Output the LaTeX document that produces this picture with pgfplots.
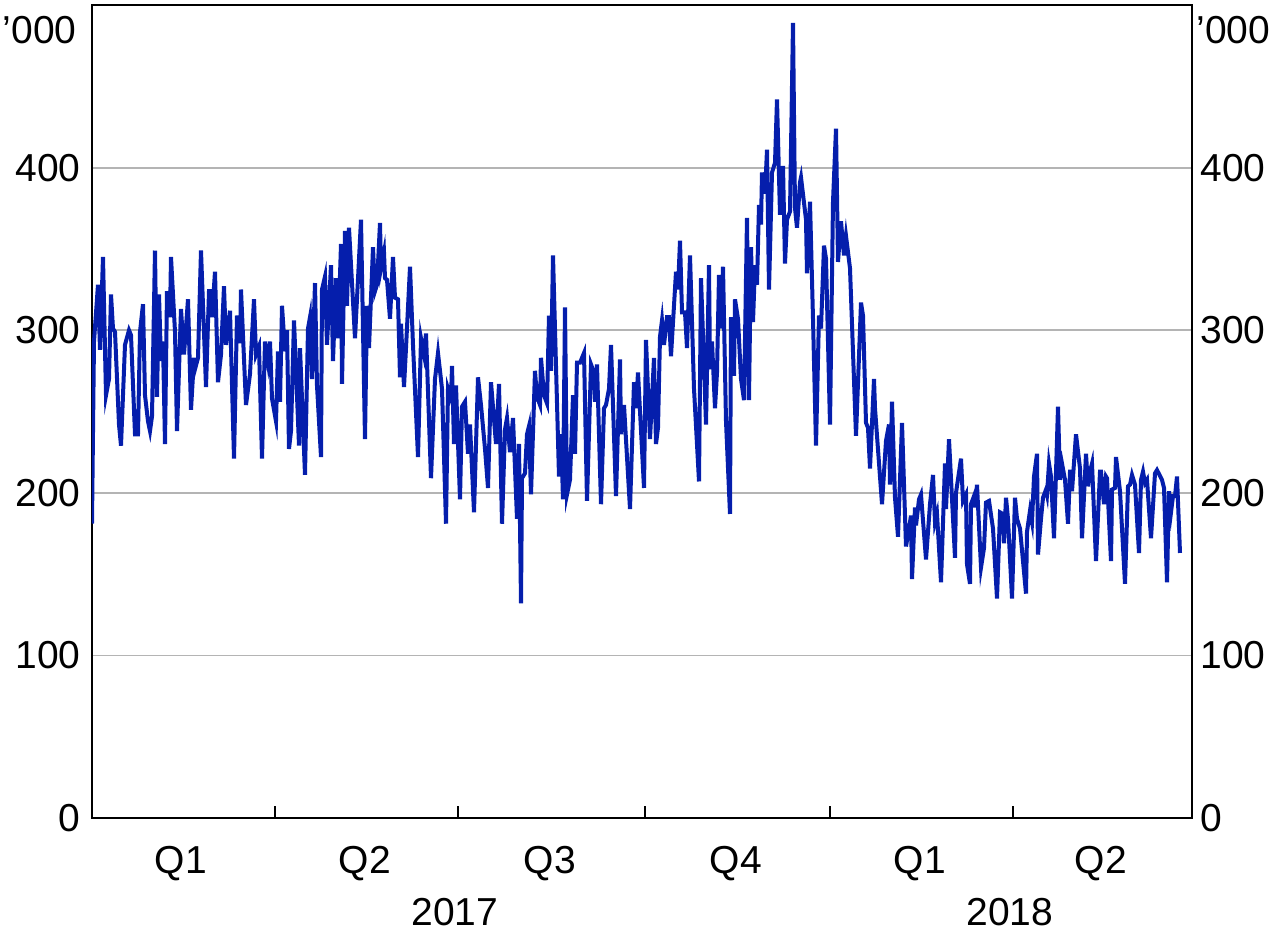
\documentclass[border=0pt]{standalone}
\usepackage{pgfplots}
\pgfplotsset{compat=1.18}
\usepackage{fontspec}
\setmainfont{Liberation Sans}
\definecolor{serie}{RGB}{5,30,172}
\definecolor{gridc}{RGB}{180,180,180}
\begin{document}
\fontsize{19.5}{22}\selectfont
\begin{tikzpicture}
\begin{axis}[
  scale only axis, width=550pt, height=406.5pt,
  xmin=92, xmax=1192, ymin=0, ymax=500,
  ytick={0,100,200,300,400},
  ymajorgrids, grid style={gridc, line width=0.9pt},
  xtick={275,458,645,830,1013}, xticklabels={},
  xtick pos=bottom, ytick pos=left,
  tick align=inside, major tick length=6pt,
  xtick style={black, line width=0.8pt},
  ytick style={draw=none},
  axis line style={black, line width=0.8pt},
  /pgf/number format/assume math mode=true,
  tick label style={font=\fontsize{19.5}{22}\selectfont},
  yticklabel style={inner sep=0pt, xshift=-5.5pt},
  clip mode=individual,
]
\addplot[serie, line width=2pt] coordinates {
(92,181) (94,293) (98,328) (100,288) (103,345) (106,260) (109,270) (111,322) (113,301) (115,299)
(119,242) (121,229) (125,291) (129,300) (131,297) (135,236) (138,236) (140,299) (143,316) (145,260)
(148,244) (150,238) (152,247) (155,349) (157,259) (159,322) (161,281) (163,293) (165,230) (167,324)
(170,308) (171,345) (175,299) (177,238) (181,313) (184,285) (188,319) (191,251) (194,283) (195,276)
(198,283) (201,349) (206,265) (209,324) (211,324) (212,308) (215,336) (218,268) (221,285) (224,327)
(226,291) (228,301) (230,312) (234,221) (237,309) (240,292) (241,325) (246,254) (250,273) (254,319)
(256,285) (259,290) (262,221) (265,293) (268,280) (270,293) (272,258) (276,244) (278,287) (280,256)
(282,315) (285,287) (287,300) (289,227) (291,238) (294,306) (299,229) (300,289) (305,211) (308,301)
(310,308) (312,270) (315,329) (317,266) (321,222) (322,325) (325,333) (327,291) (331,340) (333,281)
(336,332) (338,295) (341,353) (342,267) (345,361) (347,315) (349,363) (355,295) (361,368) (365,233)
(367,315) (369,289) (373,351) (375,324) (377,328) (380,366) (381,338) (384,348) (385,332) (387,331)
(390,307) (393,345) (395,320) (398,319) (400,271) (401,304) (404,265) (406,289) (410,339) (413,291)
(418,222) (421,295) (424,285) (426,298) (431,209) (435,270) (438,286) (442,264) (446,181) (448,264)
(451,258) (452,278) (454,230) (456,266) (460,196) (462,253) (465,256) (468,224) (470,242) (474,188)
(478,271) (481,254) (485,227) (488,203) (491,268) (496,230) (499,267) (502,181) (505,239) (507,246)
(510,225) (513,246) (517,184) (519,230) (521,132) (522,209) (525,212) (527,236) (529,241) (531,199)
(535,275) (537,259) (540,254) (541,283) (544,260) (547,255) (549,309) (551,275) (553,346) (559,210)
(561,236) (563,196) (565,314) (567,199) (570,208) (573,260) (575,224) (577,280) (580,280) (584,286)
(587,195) (591,279) (594,274) (595,256) (597,279) (601,193) (604,252) (606,254) (609,264) (611,291)
(616,198) (620,282) (621,236) (624,254) (630,190) (634,268) (636,252) (638,274) (644,203) (646,294)
(650,233) (654,283) (656,230) (658,240) (660,296) (662,306) (664,291) (667,308) (669,308) (671,284)
(676,336) (678,325) (680,355) (682,311) (685,311) (687,289) (690,346) (694,264) (699,207) (701,332)
(704,279) (706,242) (709,340) (710,276) (712,293) (715,252) (717,274) (719,334) (721,301) (723,339)
(726,244) (730,187) (731,308) (734,272) (735,319) (738,307) (741,270) (744,257) (747,369) (749,257)
(751,351) (753,305) (755,340) (757,328) (759,377) (761,365) (762,397) (765,384) (767,411) (769,325)
(772,397) (775,403) (777,442) (780,371) (783,401) (785,341) (787,368) (790,373) (793,489) (795,375)
(797,363) (800,391) (801,394) (806,368) (807,335) (810,379) (813,307) (816,229) (819,309) (821,301)
(824,352) (826,344) (830,242) (833,379) (836,424) (838,342) (841,367) (844,346) (846,358) (850,338)
(856,235) (861,317) (863,309) (866,243) (868,240) (870,215) (874,270) (875,252) (882,193) (886,232)
(889,242) (890,205) (892,256) (895,197) (898,173) (902,243) (906,167) (909,178) (911,186) (912,147)
(915,191) (916,180) (919,196) (921,199) (926,159) (930,193) (933,211) (935,182) (937,187) (941,145)
(945,218) (946,190) (949,233) (955,160) (956,200) (961,221) (963,195) (966,199) (967,156) (970,144)
(971,193) (974,198) (975,191) (977,205) (981,154) (984,166) (986,194) (989,195) (993,178) (997,135)
(1000,188) (1003,187) (1004,169) (1006,197) (1008,184) (1012,135) (1015,197) (1017,184) (1020,178) (1026,138)
(1027,176) (1030,189) (1032,182) (1034,210) (1037,224) (1038,162) (1041,184) (1043,197) (1046,202) (1047,199)
(1049,218) (1051,210) (1054,172) (1058,253) (1060,208) (1062,218) (1065,208) (1068,181) (1070,213) (1071,213)
(1072,201) (1076,236) (1080,215) (1082,172) (1086,224) (1088,204) (1090,213) (1092,218) (1096,158) (1100,213)
(1101,213) (1104,193) (1106,210) (1107,209) (1111,158) (1112,202) (1115,203) (1116,222) (1120,201) (1125,144)
(1128,204) (1130,205) (1132,211) (1135,205) (1139,163) (1141,208) (1143,213) (1145,206) (1147,208) (1151,172)
(1155,212) (1157,214) (1162,208) (1164,203) (1167,145) (1169,201) (1171,188) (1173,198) (1175,198) (1177,210)
(1180,163)
};
\coordinate (sw) at (rel axis cs:0,0);
\coordinate (nw) at (rel axis cs:0,1);
\node[anchor=base] at (axis cs:181,0) [yshift=-27.5pt] {Q1};
\node[anchor=base] at (axis cs:365,0) [yshift=-27.5pt] {Q2};
\node[anchor=base] at (axis cs:550,0) [yshift=-27.5pt] {Q3};
\node[anchor=base] at (axis cs:736,0) [yshift=-27.5pt] {Q4};
\node[anchor=base] at (axis cs:920,0) [yshift=-27.5pt] {Q1};
\node[anchor=base] at (axis cs:1101,0) [yshift=-27.5pt] {Q2};
\node[anchor=base] at (axis cs:455,0) [yshift=-53.5pt] {2017};
\node[anchor=base] at (axis cs:1010,0) [yshift=-53.5pt] {2018};
\end{axis}
\begin{axis}[
  scale only axis, width=550pt, height=406.5pt,
  xmin=92, xmax=1192, ymin=0, ymax=500,
  ytick={0,100,200,300,400}, xtick=\empty,
  yticklabel pos=right, ytick style={draw=none},
  axis line style={draw=none},
  /pgf/number format/assume math mode=true,
  tick label style={font=\fontsize{19.5}{22}\selectfont},
  yticklabel style={inner sep=0pt, xshift=4pt},
]
\coordinate (ne) at (rel axis cs:1,1);
\end{axis}
\node[anchor=east, inner sep=0pt] at ([xshift=-7.5pt,yshift=-12.5pt]nw) {’000};
\node[anchor=west, inner sep=0pt] at ([xshift=2pt,yshift=-12.5pt]ne) {’000};
\path (sw) ++(-46pt,-57pt) rectangle ++(640pt,466pt);
\end{tikzpicture}
\end{document}
